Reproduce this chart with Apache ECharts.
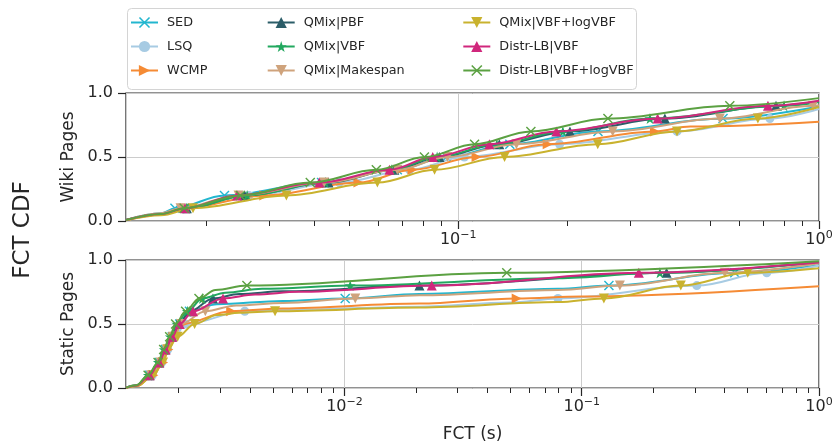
<!DOCTYPE html>
<html><head><meta charset="utf-8">
<script src="https://cdn.jsdelivr.net/npm/echarts@6/dist/echarts.min.js"></script>
<style>html,body{margin:0;padding:0;background:#fff}#c{width:837px;height:446px}</style>
</head><body><div id="c"></div>
<script>
// ---------------- data ----------------
const seriesNames = ['SED','LSQ','WCMP','QMix|PBF','QMix|VBF','QMix|Makespan','QMix|VBF+logVBF','Distr-LB|VBF','Distr-LB|VBF+logVBF'];
const wikiMin = 0.012, staticMin = 0.0012, xMax = 1;
const wikiTickExps = [-1, 0];
const staticTickExps = [-2, -1, 0];

// Wiki Pages: [FCT (s), CDF]
const wikiSED      = [[0.012,0.008],[0.015,0.06],[0.0164,0.1],[0.0225,0.2],[0.0418,0.3],[0.0678,0.4],[0.0928,0.5],[0.139,0.6],[0.244,0.7],[0.542,0.8],[1,0.895]];
const wikiLSQ      = [[0.012,0.006],[0.015,0.05],[0.0172,0.1],[0.0263,0.2],[0.0468,0.3],[0.0733,0.4],[0.104,0.5],[0.191,0.6],[0.404,0.7],[0.731,0.8],[1,0.875]];
const wikiWCMP     = [[0.012,0.006],[0.015,0.05],[0.0174,0.1],[0.029,0.2],[0.0529,0.3],[0.0747,0.4],[0.1124,0.5],[0.177,0.6],[0.351,0.7],[0.44,0.738],[1,0.776]];
const wikiPBF      = [[0.012,0.008],[0.015,0.055],[0.0177,0.1],[0.0256,0.2],[0.0437,0.3],[0.0665,0.4],[0.0887,0.5],[0.130,0.6],[0.204,0.7],[0.374,0.8],[0.76,0.9],[1,0.935]];
const wikiVBF      = [[0.012,0.008],[0.015,0.055],[0.0177,0.1],[0.026,0.2],[0.0428,0.3],[0.0654,0.4],[0.0874,0.5],[0.128,0.6],[0.195,0.7],[0.340,0.8],[0.80,0.9],[1,0.93]];
const wikiMakespan = [[0.012,0.008],[0.015,0.06],[0.017,0.1],[0.0246,0.2],[0.0425,0.3],[0.0678,0.4],[0.0934,0.5],[0.145,0.6],[0.268,0.7],[0.531,0.8],[0.963,0.9],[1,0.905]];
const wikiVBFlog   = [[0.012,0.005],[0.015,0.045],[0.0184,0.1],[0.0334,0.2],[0.0597,0.3],[0.086,0.4],[0.1344,0.5],[0.2436,0.6],[0.404,0.7],[0.677,0.8],[1,0.89]];
const wikiDistVBF  = [[0.012,0.008],[0.015,0.055],[0.0175,0.1],[0.0244,0.2],[0.0412,0.3],[0.0645,0.4],[0.085,0.5],[0.122,0.6],[0.187,0.7],[0.357,0.8],[0.722,0.9],[1,0.94]];
const wikiDistLog  = [[0.012,0.008],[0.015,0.055],[0.0174,0.1],[0.0249,0.2],[0.0389,0.3],[0.0593,0.4],[0.0806,0.5],[0.111,0.6],[0.159,0.7],[0.260,0.8],[0.566,0.9],[1,0.96]];

// Static Pages: [FCT (s), CDF]
const staticSED      = [[0.0012,0.003],[0.00133,0.02],[0.00151,0.1],[0.00166,0.2],[0.00176,0.3],[0.00188,0.4],[0.00202,0.5],[0.00222,0.6],[0.0029,0.655],[0.0055,0.68],[0.01007,0.7],[0.0207,0.735],[0.0794,0.775],[0.1302,0.8],[0.4417,0.9],[1,0.96]];
const staticLSQ      = [[0.0012,0.002],[0.00134,0.018],[0.00155,0.1],[0.0017,0.2],[0.0018,0.3],[0.00192,0.4],[0.00214,0.5],[0.0038,0.6],[0.0055,0.61],[0.0207,0.635],[0.05,0.668],[0.0794,0.7],[0.3055,0.8],[0.6024,0.9],[1,0.957]];
const staticWCMP     = [[0.0012,0.002],[0.00134,0.018],[0.001565,0.1],[0.00172,0.2],[0.00181,0.3],[0.0019,0.4],[0.00207,0.5],[0.00333,0.6],[0.0055,0.622],[0.0207,0.66],[0.0532,0.7],[0.1,0.715],[1,0.794]];
const staticPBF      = [[0.0012,0.003],[0.00133,0.02],[0.001506,0.1],[0.001651,0.2],[0.001749,0.3],[0.001863,0.4],[0.001994,0.5],[0.00224,0.6],[0.00279,0.7],[0.0036,0.735],[0.0055,0.755],[0.0207,0.8],[0.2278,0.9],[1,0.985]];
const staticVBF      = [[0.0012,0.003],[0.00133,0.021],[0.001491,0.1],[0.001643,0.2],[0.001741,0.3],[0.001845,0.4],[0.001965,0.5],[0.002176,0.6],[0.002517,0.7],[0.00315,0.745],[0.0045,0.775],[0.01057,0.8],[0.0794,0.857],[0.2135,0.9],[1,0.98]];
const staticMakespan = [[0.0012,0.003],[0.00134,0.02],[0.00153,0.1],[0.00168,0.2],[0.00178,0.3],[0.0019,0.4],[0.00205,0.5],[0.002591,0.6],[0.0035,0.645],[0.0055,0.665],[0.0111,0.7],[0.0207,0.725],[0.0794,0.765],[0.1448,0.8],[0.4009,0.9],[1,0.975]];
const staticVBFlog   = [[0.0012,0.002],[0.00134,0.016],[0.001565,0.1],[0.001719,0.2],[0.0018,0.3],[0.00198,0.4],[0.002335,0.5],[0.0029,0.57],[0.0036,0.588],[0.0051,0.6],[0.0207,0.628],[0.0794,0.671],[0.124,0.7],[0.2616,0.8],[0.5009,0.9],[1,0.935]];
const staticDistVBF  = [[0.0012,0.003],[0.00133,0.02],[0.00151,0.1],[0.001659,0.2],[0.001763,0.3],[0.001881,0.4],[0.00202,0.5],[0.002299,0.6],[0.003076,0.7],[0.0042,0.73],[0.0064,0.752],[0.02333,0.8],[0.174,0.9],[1,0.98]];
const staticDistLog  = [[0.0012,0.003],[0.00133,0.022],[0.001487,0.1],[0.001638,0.2],[0.001729,0.3],[0.001833,0.4],[0.001942,0.5],[0.00214,0.6],[0.002437,0.7],[0.00286,0.765],[0.00388,0.8],[0.0483,0.9],[1,0.99]];

const wikiData   = [wikiSED, wikiLSQ, wikiWCMP, wikiPBF, wikiVBF, wikiMakespan, wikiVBFlog, wikiDistVBF, wikiDistLog];
const staticData = [staticSED, staticLSQ, staticWCMP, staticPBF, staticVBF, staticMakespan, staticVBFlog, staticDistVBF, staticDistLog];

// ---------------- styles ----------------
const colors = ['#22b6cf','#a7cbe3','#f58b35','#2b5d68','#22a85f','#cfa37c','#c9b22e','#d0277c','#5ba142'];
const X_PATH = 'path://M2,0 L10,8 L18,0 L20,2 L12,10 L20,18 L18,20 L10,12 L2,20 L0,18 L8,10 L0,2 Z';
const STAR_PATH = 'path://M10,0 L12.23,6.93 L19.51,6.91 L13.61,11.17 L15.88,18.09 L10,13.8 L4.12,18.09 L6.39,11.17 L0.49,6.91 L7.77,6.93 Z';
const markers = [
  {symbol: X_PATH, size: 10, rot: 0},
  {symbol: 'circle', size: 9, rot: 0},
  {symbol: 'triangle', size: 10, rot: -90},
  {symbol: 'triangle', size: 10, rot: 0},
  {symbol: STAR_PATH, size: 11, rot: 0},
  {symbol: 'triangle', size: 10, rot: 180},
  {symbol: 'triangle', size: 10, rot: 180},
  {symbol: 'triangle', size: 10, rot: 0},
  {symbol: X_PATH, size: 10, rot: 0}
];
const TXT = '#262626';
const FONT = 'DejaVu Sans';
const hiddenLine = {show: true, onZero: false, lineStyle: {color: 'rgba(0,0,0,0)', width: 1}};

function withMarkers(arr) {
  return arr.map(p => {
    const d = p[1] * 10;
    const isDecile = Math.abs(d - Math.round(d)) < 1e-9 && p[1] > 0.05 && p[1] < 0.95;
    return isDecile ? {value: p} : {value: p, symbol: 'none'};
  });
}

function makeSeries(dataList, xIdx, yIdx) {
  return dataList.map((arr, i) => ({
    name: seriesNames[i], type: 'line', xAxisIndex: xIdx, yAxisIndex: yIdx,
    data: withMarkers(arr), smooth: 0.35, smoothMonotone: 'x',
    symbol: markers[i].symbol, symbolSize: markers[i].size, symbolRotate: markers[i].rot,
    showSymbol: true, lineStyle: {width: 2, color: colors[i]}, itemStyle: {color: colors[i]},
    emphasis: {disabled: true}, z: 2 + i * 0.01, animation: false
  }));
}

function minorValues(minVal) {
  const out = [];
  for (let e = Math.floor(Math.log10(minVal)); e < 0; e++) {
    for (let k = 2; k <= 9; k++) {
      const v = Math.log10(k * Math.pow(10, e));
      if (v > Math.log10(minVal)) out.push(v);
    }
  }
  return out;
}

function logAxis(grid, minVal) {
  return {type: 'log', logBase: 10, gridIndex: grid, min: minVal, max: xMax, position: 'bottom',
    axisLine: {show: false, onZero: false}, axisTick: {show: false}, axisLabel: {show: false},
    splitLine: {show: true, lineStyle: {color: '#cccccc', width: 1}}};
}
function majorAxis(grid, minVal, exps, name) {
  return {type: 'value', gridIndex: grid, min: Math.log10(minVal), max: 0, position: 'bottom', offset: 0,
    axisLine: hiddenLine, splitLine: {show: false},
    axisTick: {show: true, customValues: exps, length: 8, lineStyle: {color: TXT, width: 1.2}},
    axisLabel: {show: true, customValues: exps, margin: 9, color: TXT, fontFamily: FONT,
      formatter: v => '{b|10}{s|' + (v < 0 ? '\u2212' + (-v) : String(v)) + '}',
      rich: {b: {fontSize: 16, fontFamily: FONT, color: TXT, verticalAlign: 'bottom', lineHeight: 18},
             s: {fontSize: 11, fontFamily: FONT, color: TXT, verticalAlign: 'top', lineHeight: 13, padding: [0, 0, 9, 0]}}},
    name: name || '', nameLocation: 'middle', nameGap: 38,
    nameTextStyle: {fontSize: 17, color: TXT, fontFamily: FONT}};
}
function minorAxis(grid, minVal) {
  return {type: 'value', gridIndex: grid, min: Math.log10(minVal), max: 0, position: 'bottom', offset: 0,
    axisLine: hiddenLine, splitLine: {show: false}, axisLabel: {show: false},
    axisTick: {show: true, customValues: minorValues(minVal), length: 5, lineStyle: {color: TXT, width: 1}}};
}
function yAxis(grid, name) {
  return {type: 'value', gridIndex: grid, min: 0, max: 1, interval: 0.5, position: 'left',
    axisLine: hiddenLine,
    axisTick: {show: true, length: 8, lineStyle: {color: TXT, width: 1.2}},
    axisLabel: {margin: 13, fontSize: 16, color: TXT, fontFamily: FONT, formatter: v => v.toFixed(1)},
    splitLine: {show: true, lineStyle: {color: '#cccccc', width: 1}},
    name: name, nameLocation: 'middle', nameGap: 47,
    nameTextStyle: {fontSize: 17, color: TXT, fontFamily: FONT}};
}

const legendLefts = [130, 266.7, 462.3];
const option = {
  animation: false,
  backgroundColor: '#ffffff',
  textStyle: {fontFamily: FONT},
  grid: [
    {left: 126, width: 693, top: 93, height: 128, show: true, borderColor: TXT, borderWidth: 1.25, backgroundColor: 'transparent'},
    {left: 126, width: 693, top: 260, height: 128, show: true, borderColor: TXT, borderWidth: 1.25, backgroundColor: 'transparent'}
  ],
  xAxis: [
    logAxis(0, wikiMin), majorAxis(0, wikiMin, wikiTickExps), minorAxis(0, wikiMin),
    logAxis(1, staticMin), majorAxis(1, staticMin, staticTickExps, 'FCT (s)'), minorAxis(1, staticMin)
  ],
  yAxis: [yAxis(0, 'Wiki Pages'), yAxis(1, 'Static Pages')],
  legend: [0, 1, 2].map(c => ({
    data: seriesNames.slice(c * 3, c * 3 + 3), orient: 'vertical', left: legendLefts[c], top: 16,
    itemWidth: 27, itemHeight: 14, itemGap: 11, padding: 0, selectedMode: false,
    textStyle: {fontSize: 12.8, color: TXT, fontFamily: FONT, padding: [0, 0, 0, 4]}
  })),
  graphic: [
    {type: 'rect', left: 127, top: 8, shape: {width: 509, height: 81, r: 4},
     style: {fill: 'rgba(255,255,255,0.85)', stroke: '#d4d4d4', lineWidth: 1}, z: 0},
    {type: 'text', x: 23, y: 230, rotation: Math.PI / 2,
     style: {text: 'FCT CDF', fontSize: 23, fill: TXT, fontFamily: FONT, align: 'center', verticalAlign: 'middle'}}
  ],
  series: [...makeSeries(wikiData, 0, 0), ...makeSeries(staticData, 3, 1)]
};
const chart = echarts.init(document.getElementById('c'), null, {renderer: 'canvas'});
chart.setOption(option);
</script></body></html>
